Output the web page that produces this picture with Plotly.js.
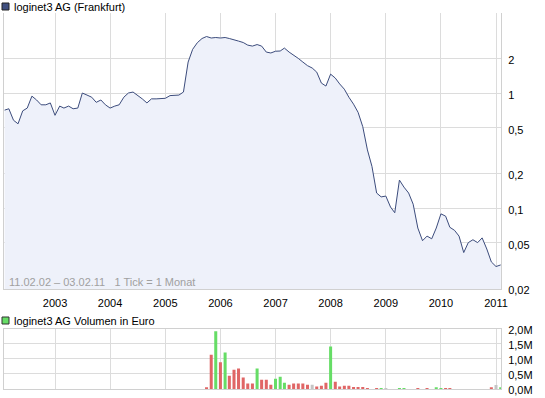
<!DOCTYPE html>
<html>
<head>
<meta charset="utf-8">
<script src="https://cdn.plot.ly/plotly-3.0.1.min.js"></script>
<style>html,body{margin:0;padding:0;background:#fff;}#chart{width:545px;height:398px;}</style>
</head>
<body>
<div id="chart"></div>
<script>
// Monthly closing prices (EUR), Feb 2002 .. Feb 2011
const priceValues = [
  0.71, 0.73, 0.58, 0.54, 0.70, 0.74, 0.94, 0.87, 0.79, 0.79, 0.82, 0.64,
  0.77, 0.74, 0.77, 0.73, 0.74, 1.00, 0.96, 0.92, 0.83, 0.87, 0.79, 0.74,
  0.77, 0.79, 0.92, 1.00, 1.02, 0.96, 0.89, 0.82, 0.89, 0.89, 0.90, 0.90,
  0.95, 0.95, 0.96, 1.02, 1.86, 2.40, 2.74, 2.98, 3.10, 3.01, 3.04, 3.01,
  3.04, 2.98, 2.92, 2.83, 2.75, 2.61, 2.56, 2.64, 2.56, 2.27, 2.23, 2.31,
  2.32, 2.46, 2.27, 2.14, 2.00, 1.86, 1.73, 1.65, 1.52, 1.22, 1.15, 1.46,
  1.35, 1.20, 1.08, 0.92, 0.80, 0.68, 0.51, 0.32, 0.23, 0.135, 0.125, 0.127,
  0.102, 0.091, 0.175, 0.152, 0.135, 0.108, 0.067, 0.052, 0.057, 0.054, 0.067, 0.089,
  0.085, 0.068, 0.064, 0.057, 0.041, 0.050, 0.053, 0.050, 0.055, 0.044, 0.034, 0.031,
  0.032
];
// Monthly volume in million EUR
const volumeValues = [
  0,0,0,0,0,0,0,0,0,0,0,0,
  0,0,0,0,0,0,0,0,0,0,0,0,
  0,0,0,0,0,0,0,0,0,0,0,0,
  0,0,0,0,0,0,0,0,0.06,1.14,1.92,0.89,
  1.21,0.44,0.64,0.68,0.38,0.18,0.18,0.68,0.31,0.31,0.14,0.34,
  0.41,0.21,0.14,0.18,0.18,0.18,0.14,0.14,0.08,0.11,0.21,1.41,
  0.24,0.08,0.11,0.11,0.07,0.07,0.07,0.03,0,0.03,0.03,0.03,
  0,0,0.03,0.03,0,0,0.03,0,0.03,0,0.06,0.03,
  0.03,0.03,0,0,0,0,0,0,0,0,0.06,0.13,
  0.06
];
// 1 = up (green), -1 = down (red), 0 = unchanged (grey)
const volumeDirection = [
  0,0,0,0,0,0,0,0,0,0,0,0,
  0,0,0,0,0,0,0,0,0,0,0,0,
  0,0,0,0,0,0,0,0,0,0,0,0,
  0,0,0,0,0,0,0,0,-1,-1,1,-1,
  1,-1,-1,-1,-1,-1,-1,1,-1,-1,-1,1,
  1,1,-1,-1,-1,-1,-1,0,-1,-1,-1,1,
  -1,-1,-1,-1,-1,-1,-1,-1,0,-1,1,0,
  0,0,1,1,0,0,-1,0,-1,0,1,1,
  -1,-1,0,0,0,0,0,0,0,0,-1,0,
  1
];
const startYear = 2002, startMonth = 2;
const yearTickDates = ['2003-01-01','2004-01-01','2005-01-01','2006-01-01','2007-01-01','2008-01-01','2009-01-01','2010-01-01','2011-01-01'];
const yearTickLabels = ['2003','2004','2005','2006','2007','2008','2009','2010','2011'];
const priceTickValues = [0.02, 0.05, 0.1, 0.2, 0.5, 1, 2];
const priceTickLabels = ['0,02','0,05','0,1','0,2','0,5','1','2'];
const volumeTickValues = [0, 0.5, 1, 1.5, 2];
const volumeTickLabels = ['0,0M','0,5M','1,0M','1,5M','2,0M'];

const dates = priceValues.map((_, i) => {
  const m = startMonth - 1 + i;
  const y = startYear + Math.floor(m / 12);
  const mm = (m % 12) + 1;
  return y + '-' + String(mm).padStart(2, '0') + '-01';
});
const dirColor = {'1': '#66dd66', '-1': '#e06666', '0': '#c4c4c4'};
const barColors = volumeDirection.map(d => dirColor[String(d)]);

const GRID = '#dcdcdc';
const LINE = '#d0d0d0';
const xRange = ['2002-01-28', '2011-02-03'];

const traces = [
  {
    type: 'scatter', mode: 'lines', x: dates, y: priceValues,
    xaxis: 'x', yaxis: 'y',
    line: {color: '#3c4c7c', width: 1},
    fill: 'tozeroy', fillcolor: '#eef1fa',
    hoverinfo: 'skip'
  },
  {
    type: 'bar', x: dates, y: volumeValues,
    xaxis: 'x2', yaxis: 'y2',
    marker: {color: barColors, line: {width: 0}},
    width: 20 * 86400000,
    hoverinfo: 'skip'
  }
];

const px = v => (v - 4) / 497;
const py = v => (389 - v) / 376;

const layout = {
  width: 545, height: 398,
  margin: {l: 4, r: 44, t: 13, b: 9},
  paper_bgcolor: '#ffffff', plot_bgcolor: '#ffffff',
  showlegend: false,
  font: {family: 'Liberation Sans, Arial, sans-serif', size: 11, color: '#000000'},
  xaxis: {
    type: 'date', range: xRange, domain: [0, 1], anchor: 'y',
    tickvals: yearTickDates, ticktext: yearTickLabels,
    showgrid: true, gridcolor: GRID, gridwidth: 1,
    showline: true, linecolor: LINE, linewidth: 1,
    zeroline: false, ticks: 'outside', ticklen: 4, tickcolor: 'rgba(0,0,0,0)',
    tickfont: {size: 11, color: '#000'}
  },
  yaxis: {
    type: 'log', domain: [0.266, 1], range: [-1.704, 0.696], side: 'right', anchor: 'x',
    tickvals: priceTickValues, ticktext: priceTickLabels,
    showgrid: true, gridcolor: GRID, gridwidth: 1,
    showline: true, mirror: true, linecolor: LINE, linewidth: 1,
    zeroline: false, ticks: 'outside', ticklen: 4, tickcolor: 'rgba(0,0,0,0)',
    ticklabelshift: 2,
    tickfont: {size: 11, color: '#000'}
  },
  xaxis2: {
    type: 'date', range: xRange, domain: [0, 1], anchor: 'y2',
    tickvals: yearTickDates, showticklabels: false,
    showgrid: true, gridcolor: GRID, gridwidth: 1,
    showline: true, mirror: true, linecolor: LINE, linewidth: 1,
    zeroline: false, ticks: ''
  },
  yaxis2: {
    domain: [0, 0.16], range: [0, 2.0], side: 'right', anchor: 'x2',
    tickvals: volumeTickValues, ticktext: volumeTickLabels,
    showgrid: true, gridcolor: GRID, gridwidth: 1,
    showline: true, mirror: true, linecolor: LINE, linewidth: 1,
    zeroline: false, ticks: 'outside', ticklen: 4, tickcolor: 'rgba(0,0,0,0)',
    ticklabelshift: 1,
    tickfont: {size: 11, color: '#000'}
  },
  shapes: [
    {type: 'rect', xref: 'paper', yref: 'paper', x0: px(2), x1: px(9), y0: py(10), y1: py(3),
     fillcolor: '#3f4f80', line: {color: '#222222', width: 1}},
    {type: 'rect', xref: 'paper', yref: 'paper', x0: px(2), x1: px(9), y0: py(324), y1: py(317),
     fillcolor: '#66dd66', line: {color: '#333333', width: 1}}
  ],
  annotations: [
    {xref: 'paper', yref: 'paper', x: px(12), y: py(7), xanchor: 'left', yanchor: 'middle',
     text: 'loginet3 AG (Frankfurt)', showarrow: false, font: {size: 11, color: '#000'}},
    {xref: 'paper', yref: 'paper', x: px(12), y: py(321), xanchor: 'left', yanchor: 'middle',
     text: 'loginet3 AG Volumen in Euro', showarrow: false, font: {size: 11, color: '#000'}},
    {xref: 'paper', yref: 'paper', x: px(7), y: py(282), xanchor: 'left', yanchor: 'middle',
     text: '11.02.02 \u2013 03.02.11   1 Tick = 1 Monat', showarrow: false, font: {size: 11, color: '#a0a0a0'}}
  ]
};

Plotly.newPlot('chart', traces, layout, {staticPlot: true, displayModeBar: false});
</script>
</body>
</html>
